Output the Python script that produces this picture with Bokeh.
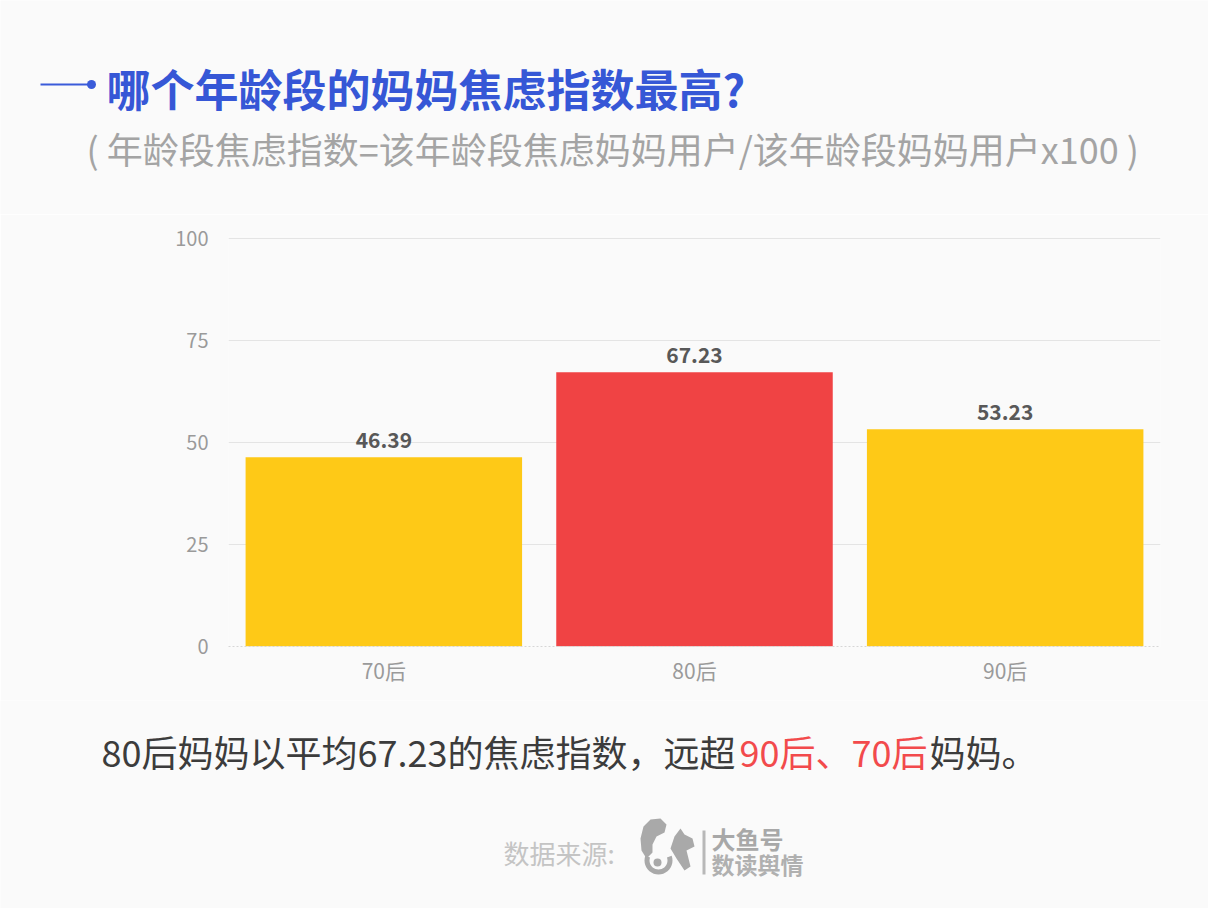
import math
from bokeh.plotting import figure
from bokeh.layouts import column
from bokeh.models import Range1d, FactorRange
from bokeh.core.properties import value
from bokeh.embed import file_html
from bokeh.resources import INLINE

# ---- data ----
categories = ["70后", "80后", "90后"]
index_values = [46.39, 67.23, 53.23]
value_labels = ["46.39", "67.23", "53.23"]
bar_colors = ["#fec917", "#f04344", "#fec917"]
y_ticks = [0, 25, 50, 75, 100]

title_text = "哪个年龄段的妈妈焦虑指数最高?"
subtitle_text = "( 年龄段焦虑指数=该年龄段焦虑妈妈用户/该年龄段妈妈用户x100 )"
note_part1 = "80后妈妈以平均67.23的焦虑指数，远超"
note_part2 = "90后、70后"
note_part3 = "妈妈。"
source_text = "数据来源:"
brand_line1 = "大鱼号"
brand_line2 = "数读舆情"

FONT = "Noto Sans CJK SC"
BG = "#fafafa"

W = 1208
TOP_H = 214          # header strip: picture y 0..214
CHART_BOTTOM = 700   # chart strip: picture y 214..700
TOTAL_H = 908        # footer strip: picture y 700..908

# chart frame in picture pixels
FL, FR, FT, FB = 228, 1160, 236, 646
y_end = 100.0 * (FB - FT) / (FB - 238)


def no_align(f):
    try:
        f.frame_align = False
    except Exception:
        pass


def blank(height, y0, y1):
    f = figure(width=W, height=height, x_range=Range1d(0, W), y_range=Range1d(y1, y0),
               x_axis_type=None, y_axis_type=None, output_backend="svg",
               toolbar_location=None, min_border=0, outline_line_color=None,
               background_fill_color=BG, border_fill_color=BG)
    f.xgrid.visible = False
    f.ygrid.visible = False
    no_align(f)
    return f


def put_text(f, x, y, text, size, color, bold=False, align="left"):
    f.text(x=[x], y=[y], text=[text], text_font=value(FONT), text_font_size=f"{size}px",
           text_color=color, text_align=align, text_baseline="middle",
           text_font_style="bold" if bold else "normal")


# ---------- header ----------
head = blank(TOP_H, 0, TOP_H)
head.line(x=[40, 90], y=[84, 84], line_color="#3a5bd9", line_width=2)
head.scatter(x=[91], y=[84], size=9, fill_color="#3a5bd9", line_color=None)
put_text(head, 106, 87, title_text, 44, "#3657d6", bold=True)
put_text(head, 86, 147, subtitle_text, 36, "#a4a4a4")

# ---------- chart ----------
p = figure(
    width=W, height=CHART_BOTTOM - TOP_H,
    x_range=FactorRange(*categories, range_padding=0.0),
    y_range=Range1d(0, y_end),
    output_backend="svg", toolbar_location=None,
    min_border_left=FL, min_border_right=W - FR,
    min_border_top=FT - TOP_H, min_border_bottom=CHART_BOTTOM - FB,
    background_fill_color=BG, border_fill_color=BG,
    outline_line_color=None,
)
no_align(p)
p.x_range.factor_padding = 0.0

p.vbar(x=categories, top=index_values, width=0.89, fill_color=bar_colors, line_color=None)
p.text(x=categories, y=index_values, text=value_labels, text_align="center",
       text_baseline="bottom", y_offset=-9, text_font=value(FONT),
       text_font_size="21px", text_font_style="bold", text_color="#585858")

p.yaxis.ticker = y_ticks
p.yaxis.axis_line_color = None
p.yaxis.major_tick_line_color = None
p.yaxis.major_tick_out = 0
p.yaxis.minor_tick_line_color = None
p.yaxis.major_label_standoff = 20
p.yaxis.major_label_text_font = FONT
p.yaxis.major_label_text_font_size = "20px"
p.yaxis.major_label_text_color = "#9a9a9a"

p.xaxis.axis_line_color = "#d6d6d6"
p.xaxis.axis_line_dash = "2 2"
p.xaxis.major_tick_line_color = None
p.xaxis.major_tick_out = 0
p.xaxis.minor_tick_line_color = None
p.xaxis.major_label_standoff = 8
p.xaxis.major_label_text_font = FONT
p.xaxis.major_label_text_font_size = "21px"
p.xaxis.major_label_text_color = "#9a9a9a"

p.xgrid.grid_line_color = None
p.ygrid.grid_line_color = "#e4e4e4"
p.ygrid.grid_line_width = 1

# ---------- footer ----------
foot = blank(TOTAL_H - CHART_BOTTOM, CHART_BOTTOM, TOTAL_H)
put_text(foot, 101, 750, note_part1, 36, "#3c3c3c")
put_text(foot, 739, 750, note_part2, 36, "#f24a4c")
put_text(foot, 929, 750, note_part3, 36, "#3c3c3c")

put_text(foot, 503, 852, source_text, 26, "#c4c4c4")
put_text(foot, 711, 838, brand_line1, 24, "#a8a8a8", bold=True)
put_text(foot, 711, 863, brand_line2, 23, "#b0b0b0", bold=True)
foot.line(x=[703.5, 703.5], y=[830, 874], line_color="#b8b8b8", line_width=3)

# squirrel-like icon (decoration)
ICON = "#a9a9a9"
foot.patch([643, 650, 660, 666, 664, 656, 652, 652, 646, 641, 640],
           [826, 819, 818, 824, 832, 836, 844, 852, 858, 850, 838],
           fill_color=ICON, line_color=None)
cx, cy = 658, 860
bx, by = [], []
for t in range(-20, 201, 10):
    a = math.radians(t)
    bx.append(cx + 14 * math.cos(a)); by.append(cy + 14 * math.sin(a))
for t in range(200, -21, -10):
    a = math.radians(t)
    bx.append(cx + 9 * math.cos(a)); by.append(cy + 9 * math.sin(a))
foot.patch(bx, by, fill_color=ICON, line_color=None)
foot.scatter(x=[657], y=[862], size=8, fill_color=ICON, line_color=None)
foot.patch([670, 674, 680, 684, 692, 694, 686, 690, 684, 676],
           [848, 836, 828, 834, 838, 846, 850, 866, 870, 858],
           fill_color=ICON, line_color=None)

layout = column(head, p, foot, spacing=0)
open("out.html", "w").write(file_html(layout, INLINE))
